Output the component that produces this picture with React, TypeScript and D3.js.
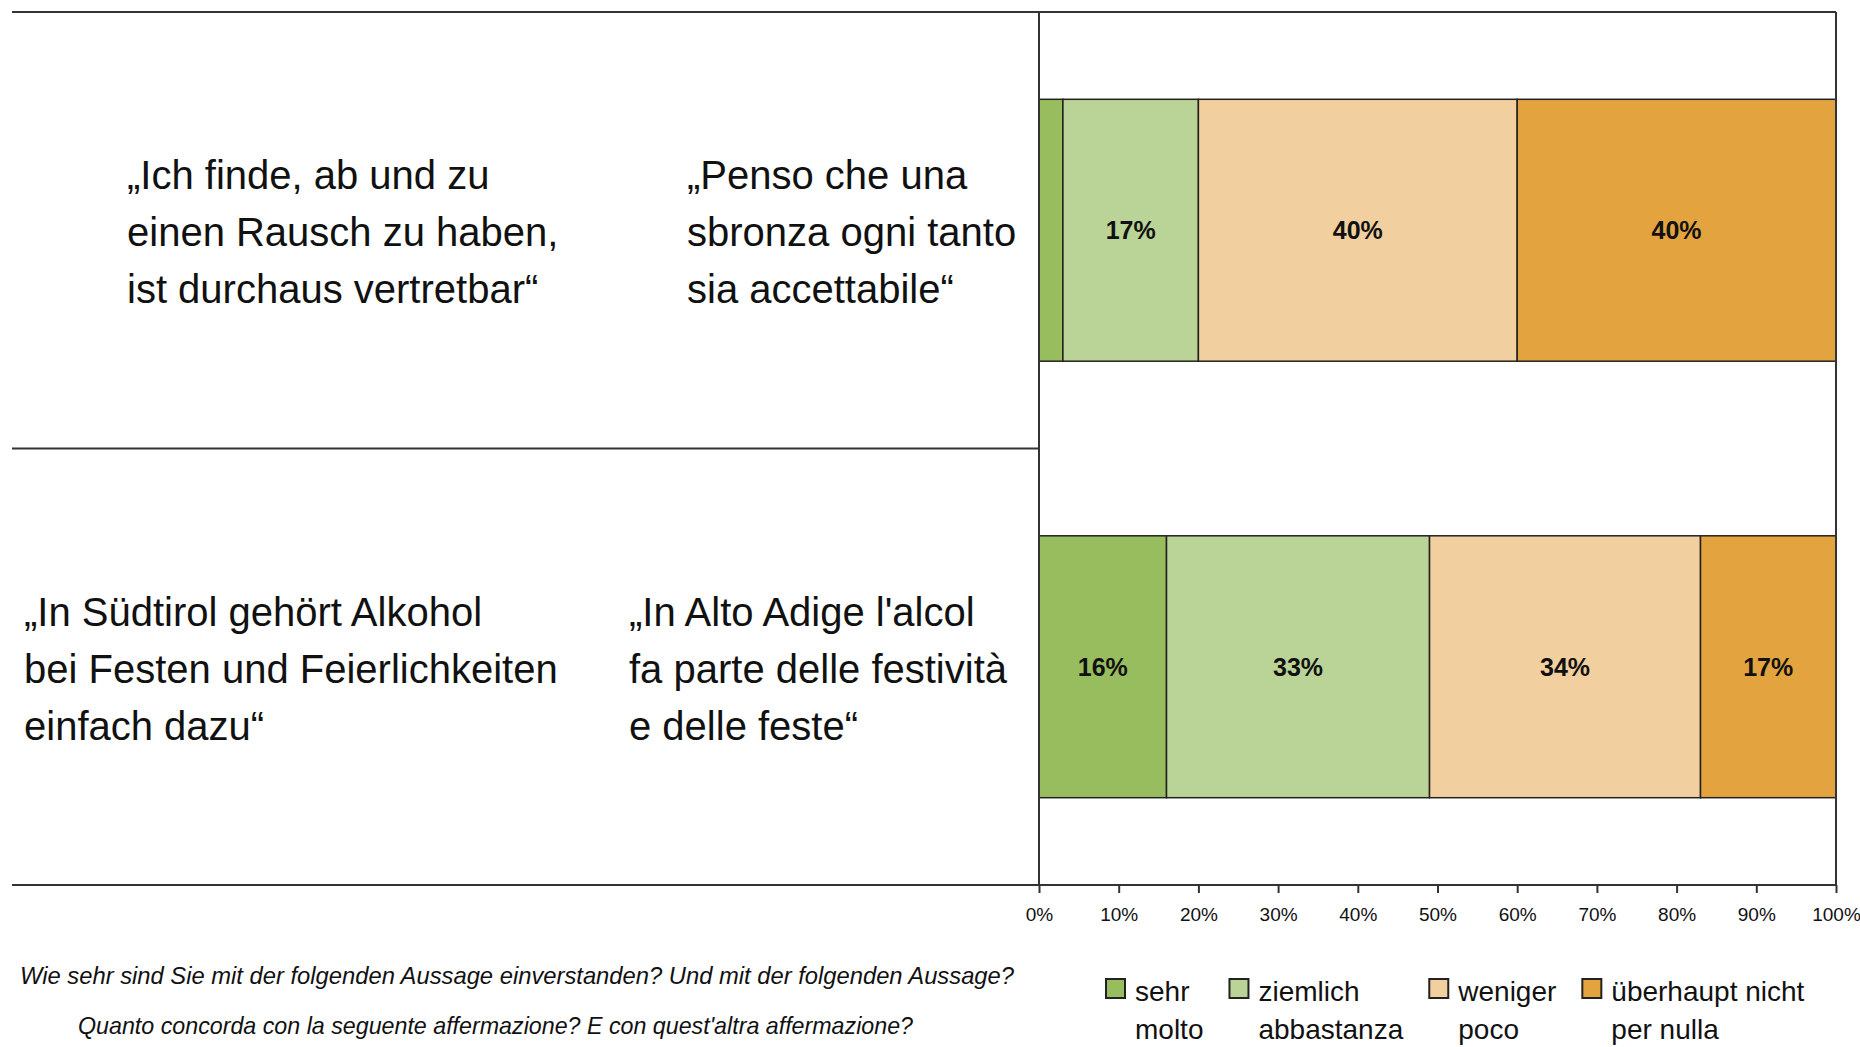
import React, { useRef, useEffect } from "react";
import * as d3 from "d3";

// answer categories (German / Italian)
const categoriesDe = ["sehr", "ziemlich", "weniger", "überhaupt nicht"];
const categoriesIt = ["molto", "abbastanza", "poco", "per nulla"];

// statements, one row per bar
const rowKeys = ["rausch", "festen"];
const statementsDe = [
  ["„Ich finde, ab und zu", "einen Rausch zu haben,", "ist durchaus vertretbar“"],
  ["„In Südtirol gehört Alkohol", "bei Festen und Feierlichkeiten", "einfach dazu“"],
];
const statementsIt = [
  ["„Penso che una", "sbronza ogni tanto", "sia accettabile“"],
  ["„In Alto Adige l'alcol", "fa parte delle festività", "e delle feste“"],
];

// shares in % (sehr, ziemlich, weniger, überhaupt nicht)
const rauschValues = [3, 17, 40, 40];
const festenValues = [16, 33, 34, 17];

const tickValues = [0, 10, 20, 30, 40, 50, 60, 70, 80, 90, 100];

const questionLines = [
  "Wie sehr sind Sie mit der folgenden Aussage einverstanden? Und mit der folgenden Aussage?",
  "Quanto concorda con la seguente affermazione? E con quest'altra affermazione?",
];

const colors = ["#98bd5e", "#bad397", "#f1cf9e", "#e3a33f"];

const width = 1860;
const height = 1047;
const plotLeft = 1039;
const plotRight = 1836;
const plotTop = 12;
const plotBottom = 885;
const frameLeft = 12;
const font = "'Liberation Sans', Arial, sans-serif";
const lineColor = "#333";

// left x of each statement block (German, Italian) per row
const blockX = [
  [127, 687],
  [24, 629],
];
// question lines: left x and fitted width
const questionX = [20, 78];
const questionW = [994, 835];

const App = () => {
  const svgRef = useRef(null);

  useEffect(() => {
    const svg = d3.select(svgRef.current);
    svg.selectAll("*").remove();

    const x = d3.scaleLinear().domain([0, 100]).range([plotLeft, plotRight]);
    const y = d3
      .scaleBand()
      .domain(rowKeys)
      .range([plotTop, plotBottom])
      .paddingInner(0.4)
      .paddingOuter(0.2);

    const rows = rowKeys.map((key, i) => ({
      key,
      values: [rauschValues, festenValues][i],
    }));
    const series = d3
      .stack()
      .keys(d3.range(categoriesDe.length))
      .value((d, k) => d.values[k])(rows);

    // bars
    const layer = svg
      .append("g")
      .selectAll("g")
      .data(series)
      .join("g")
      .attr("fill", (d) => colors[d.key]);

    layer
      .selectAll("rect")
      .data((d) => d)
      .join("rect")
      .attr("x", (d) => x(d[0]))
      .attr("y", (d) => y(d.data.key))
      .attr("width", (d) => x(d[1]) - x(d[0]))
      .attr("height", y.bandwidth())
      .attr("stroke", "#222")
      .attr("stroke-width", 1.5);

    layer
      .selectAll("text")
      .data((d) => d.filter((s) => s[1] - s[0] >= 5))
      .join("text")
      .attr("x", (d) => (x(d[0]) + x(d[1])) / 2)
      .attr("y", (d) => y(d.data.key) + y.bandwidth() / 2)
      .attr("dy", "0.36em")
      .attr("text-anchor", "middle")
      .attr("font-family", font)
      .attr("font-weight", "bold")
      .attr("font-size", 25)
      .attr("fill", "#111")
      .text((d) => `${d[1] - d[0]}%`);

    // frame
    const frame = svg
      .append("g")
      .attr("stroke", lineColor)
      .attr("stroke-width", 2)
      .attr("fill", "none");
    frame.append("line").attr("x1", frameLeft).attr("x2", plotRight).attr("y1", plotTop).attr("y2", plotTop);
    frame.append("line").attr("x1", frameLeft).attr("x2", plotRight).attr("y1", plotBottom).attr("y2", plotBottom);
    frame.append("line").attr("x1", plotRight).attr("x2", plotRight).attr("y1", plotTop).attr("y2", plotBottom);
    frame.append("line").attr("x1", plotLeft).attr("x2", plotLeft).attr("y1", plotTop).attr("y2", plotBottom);
    const sep = y(rowKeys[1]) - (y.step() * y.paddingInner()) / 2;
    frame.append("line").attr("x1", frameLeft).attr("x2", plotLeft).attr("y1", sep).attr("y2", sep);

    // x axis
    const gx = svg
      .append("g")
      .attr("transform", `translate(0,${plotBottom})`)
      .call(
        d3
          .axisBottom(x)
          .tickValues(tickValues)
          .tickFormat((d) => `${d}%`)
          .tickSize(8)
          .tickPadding(15)
      );
    gx.select(".domain").remove();
    gx.selectAll("line").attr("stroke", lineColor).attr("stroke-width", 2);
    gx.selectAll("text")
      .attr("font-family", font)
      .attr("font-size", 19)
      .attr("fill", "#111");

    // statements
    rowKeys.forEach((key, i) => {
      const cy = y(key) + y.bandwidth() / 2;
      [statementsDe[i], statementsIt[i]].forEach((lines, j) => {
        svg
          .append("g")
          .selectAll("text")
          .data(lines)
          .join("text")
          .attr("x", blockX[i][j])
          .attr("y", (d, k) => cy + 16 + (k - 1) * 57)
          .attr("font-family", font)
          .attr("font-size", 40)
          .attr("fill", "#111")
          .text((d) => d);
      });
    });

    // question
    svg
      .append("g")
      .selectAll("text")
      .data(questionLines)
      .join("text")
      .attr("x", (d, i) => questionX[i])
      .attr("y", (d, i) => 984 + i * 50)
      .attr("textLength", (d, i) => questionW[i])
      .attr("lengthAdjust", "spacingAndGlyphs")
      .attr("font-family", font)
      .attr("font-style", "italic")
      .attr("font-size", 24)
      .attr("fill", "#111")
      .text((d) => d);

    // legend
    const legend = svg.append("g");
    let lx = 1106;
    categoriesDe.forEach((cat, i) => {
      const item = legend.append("g").attr("transform", `translate(${lx},0)`);
      item
        .append("rect")
        .attr("x", 0)
        .attr("y", 979)
        .attr("width", 19)
        .attr("height", 19)
        .attr("fill", colors[i])
        .attr("stroke", "#222")
        .attr("stroke-width", 2);
      const t = item
        .selectAll("text")
        .data([cat, categoriesIt[i]])
        .join("text")
        .attr("x", 29)
        .attr("y", (d, k) => 1001 + k * 38)
        .attr("font-family", font)
        .attr("font-size", 28)
        .attr("fill", "#111")
        .text((d) => d);
      const w = d3.max(t.nodes(), (n) => n.getComputedTextLength());
      lx += 29 + w + 26;
    });
  }, []);

  return (
    <svg
      ref={svgRef}
      width={width}
      height={height}
      style={{ position: "absolute", left: 0, top: 0, background: "#fff" }}
    />
  );
};

export default App;
